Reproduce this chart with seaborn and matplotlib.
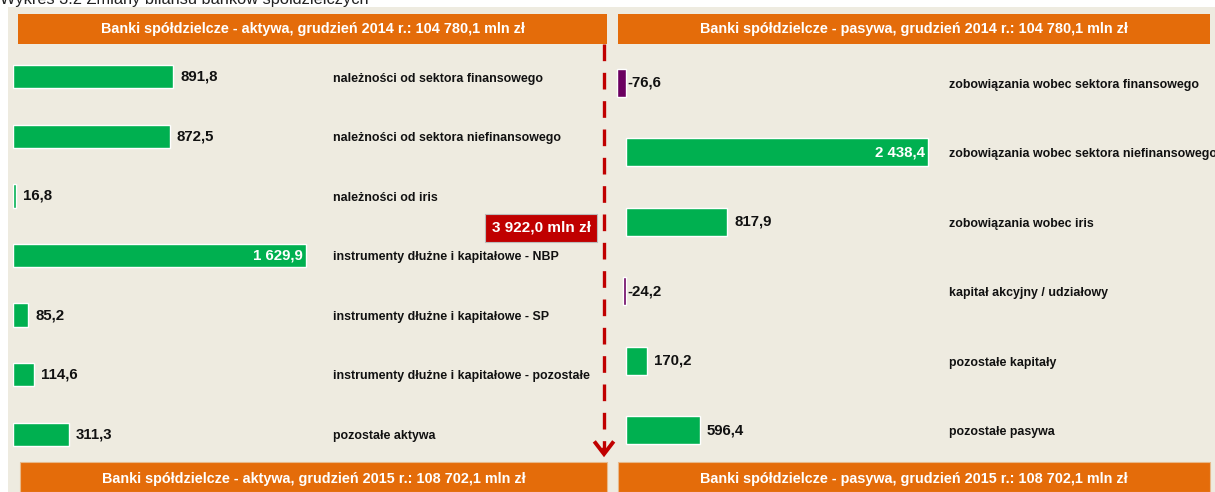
import seaborn as sns
import matplotlib.pyplot as plt
from matplotlib.patches import Rectangle, FancyArrowPatch
from matplotlib.lines import Line2D

# Dane: zmiany pozycji bilansu (mln zł)
aktywa_kat = ['należności od sektora finansowego', 'należności od sektora niefinansowego',
              'należności od iris', 'instrumenty dłużne i kapitałowe - NBP',
              'instrumenty dłużne i kapitałowe - SP', 'instrumenty dłużne i kapitałowe - pozostałe',
              'pozostałe aktywa']
aktywa_zm = [891.8, 872.5, 16.8, 1629.9, 85.2, 114.6, 311.3]

pasywa_kat = ['zobowiązania wobec sektora finansowego', 'zobowiązania wobec sektora niefinansowego',
              'zobowiązania wobec iris', 'kapitał akcyjny / udziałowy',
              'pozostałe kapitały', 'pozostałe pasywa']
pasywa_zm = [-76.6, 2438.4, 817.9, -24.2, 170.2, 596.4]

naglowki_gora = ['Banki spółdzielcze - aktywa, grudzień 2014 r.: 104 780,1 mln zł',
                 'Banki spółdzielcze - pasywa, grudzień 2014 r.: 104 780,1 mln zł']
naglowki_dol = ['Banki spółdzielcze - aktywa, grudzień 2015 r.: 108 702,1 mln zł',
                'Banki spółdzielcze - pasywa, grudzień 2015 r.: 108 702,1 mln zł']
zmiana_sumy = '3 922,0 mln zł'
tytul = 'Wykres 3.2 Zmiany bilansu banków spółdzielczych'

ZIELONY = '#00B050'
FIOLET = '#6B0060'
POMARANCZ = '#E46C0A'
CZERWONY = '#C00000'
TLO = '#EEEBE0'

sns.set_theme(style='white')
plt.rcParams['font.family'] = ['Liberation Sans', 'DejaVu Sans']

W, H = 1215, 492
fig = plt.figure(figsize=(W / 100, H / 100), dpi=100)
fig.patch.set_facecolor('white')


def px(x0, y0, x1, y1):
    """Prostokąt w pikselach (od góry) -> współrzędne figury."""
    return [x0 / W, 1 - y1 / H, (x1 - x0) / W, (y1 - y0) / H]


def fmt(v):
    s = f'{abs(v):,.1f}'.replace(',', ' ').replace('.', ',')
    return ('-' if v < 0 else '') + s


# tło panelu
fig.add_artist(Rectangle((8 / W, 0), 1 - 8 / W, 1 - 7 / H, transform=fig.transFigure,
                         facecolor=TLO, edgecolor='none', zorder=0))
# tytuł wykresu - w oryginale widoczny tylko dolny fragment
fig.text(0.0, 1 - 4 / H, tytul, fontsize=11.8, color='#222222', va='baseline', ha='left')


def panel(rect, kategorie, wartosci, zero_px, skala, x_etykiety, wys_slupka):
    x0, y0, x1, y1 = rect
    ax = fig.add_axes(px(x0, y0, x1, y1))
    kolory = [ZIELONY if v >= 0 else FIOLET for v in wartosci]
    sns.barplot(x=wartosci, y=kategorie, hue=kategorie, palette=kolory, orient='h',
                width=wys_slupka, legend=False, ax=ax, saturation=1)
    ax.set_xlim(-(zero_px - x0) / skala, (x1 - zero_px) / skala)
    ax.set_ylim(len(kategorie) - 0.5, -0.5)
    ax.set_facecolor('none')
    ax.axis('off')
    for i, (k, v) in enumerate(zip(kategorie, wartosci)):
        if v > 1500:
            ax.annotate(fmt(v), (v, i), xytext=(-2, 0), textcoords='offset points',
                        ha='right', va='center', color='white', fontsize=10.8, fontweight='bold')
        else:
            ax.annotate(fmt(v), (max(v, 0), i), xytext=(5 if v >= 0 else 1, 0),
                        textcoords='offset points', ha='left', va='center',
                        color='#111111', fontsize=10.8, fontweight='bold')
        ax.text(x_etykiety, i + 0.03, k, transform=ax.get_yaxis_transform(), ha='left',
                va='center', fontsize=8.9, fontweight='bold', color='#111111')
    return ax


# aktywa: zero przy 13 px, 1629,9 kończy się przy 306 px
panel((13, 47, 600, 464), aktywa_kat, aktywa_zm, 13, 293 / 1629.9, (333 - 13) / 587, 0.39)
# pasywa: zero przy 626 px, 2438,4 kończy się przy 928 px
panel((610, 48, 1215, 465), pasywa_kat, pasywa_zm, 626, 302 / 2438.4, (949 - 610) / 605, 0.41)

# nagłówki
for (x0, x1), t in zip([(18, 607), (618, 1210)], naglowki_gora):
    fig.add_artist(Rectangle(px(x0, 14, x1, 44)[:2], (x1 - x0) / W, 30 / H,
                             transform=fig.transFigure, facecolor=POMARANCZ, edgecolor='none'))
    fig.text((x0 + x1) / 2 / W, 1 - 29 / H, t, ha='center', va='center', color='white',
             fontsize=10.4, fontweight='bold')
for (x0, x1), t in zip([(20, 607), (618, 1210)], naglowki_dol):
    fig.add_artist(Rectangle(px(x0, 462, x1, 492)[:2], (x1 - x0) / W, 30 / H,
                             transform=fig.transFigure, facecolor=POMARANCZ,
                             edgecolor='#E8B98A', linewidth=0.8))
    fig.text((x0 + x1) / 2 / W, 1 - 479 / H, t, ha='center', va='center', color='white',
             fontsize=10.4, fontweight='bold')

# przerywana strzałka zmiany sumy bilansowej
fig.add_artist(Line2D([604 / W, 604 / W], [1 - 44 / H, 1 - 452 / H], transform=fig.transFigure,
                      color=CZERWONY, linewidth=2.4, dashes=(5, 3.5)))
fig.add_artist(FancyArrowPatch((604 / W, 1 - 445 / H), (604 / W, 1 - 460 / H),
                               transform=fig.transFigure, arrowstyle='->,head_length=0.65,head_width=0.5',
                               color=CZERWONY, linewidth=2.8, mutation_scale=14,
                               joinstyle='miter', capstyle='butt'))
fig.text(541 / W, 1 - 228 / H, zmiana_sumy, ha='center', va='center', color='white',
         fontsize=11, fontweight='bold',
         bbox=dict(boxstyle='square,pad=0.45', facecolor=CZERWONY, edgecolor='#BBBBBB', linewidth=0.8))

fig.savefig('out.png', dpi=100, facecolor=fig.get_facecolor())
